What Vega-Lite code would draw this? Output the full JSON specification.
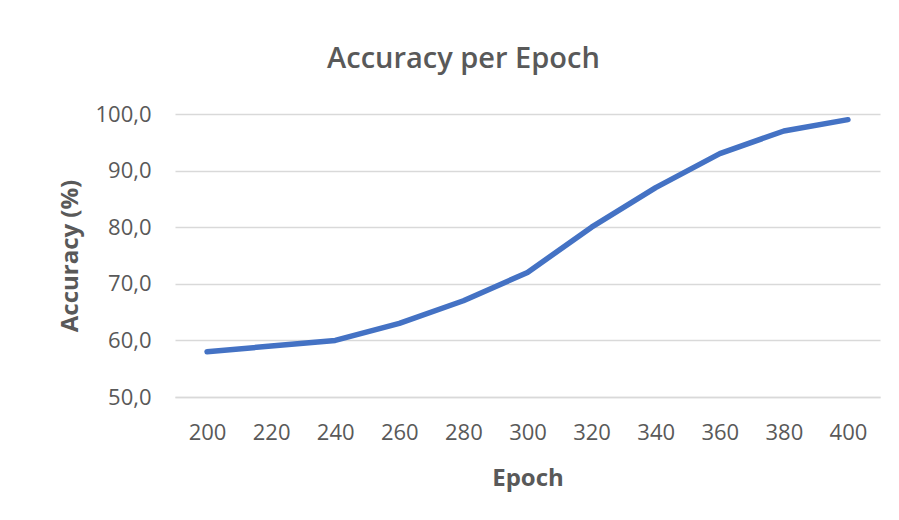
{
  "$schema": "https://vega.github.io/schema/vega-lite/v6.json",
  "autosize": {"type": "none"},
  "width": 705,
  "height": 283,
  "padding": {"left": 175, "top": 114, "right": 19, "bottom": 123},
  "background": "white",
  "title": {
    "text": "Accuracy per Epoch",
    "anchor": "middle",
    "frame": "bounds",
    "font": "Open Sans",
    "fontSize": 29,
    "fontWeight": 600,
    "color": "#595959",
    "baseline": "alphabetic",
    "offset": 6,
    "dx": -6
  },
  "data": {
    "values": [
      {"epoch": 200, "accuracy": 58},
      {"epoch": 220, "accuracy": 59},
      {"epoch": 240, "accuracy": 60},
      {"epoch": 260, "accuracy": 63},
      {"epoch": 280, "accuracy": 67},
      {"epoch": 300, "accuracy": 72},
      {"epoch": 320, "accuracy": 80},
      {"epoch": 340, "accuracy": 87},
      {"epoch": 360, "accuracy": 93},
      {"epoch": 380, "accuracy": 97},
      {"epoch": 400, "accuracy": 99}
    ]
  },
  "mark": {"type": "line", "color": "#4472C4", "strokeWidth": 5.5, "strokeCap": "round", "strokeJoin": "round"},
  "encoding": {
    "x": {
      "field": "epoch",
      "type": "ordinal",
      "title": "Epoch",
      "scale": {"type": "point", "padding": 0.5},
      "axis": {
        "labelAngle": 0,
        "labelFont": "Open Sans",
        "labelFontSize": 22,
        "labelColor": "#595959",
        "labelPadding": 25,
        "ticks": false,
        "domain": true,
        "domainColor": "#d9d9d9",
        "domainWidth": 1.3,
        "grid": false,
        "titleFont": "Open Sans",
        "titleFontSize": 24,
        "titleFontWeight": "bold",
        "titleColor": "#595959",
        "titlePadding": 23
      }
    },
    "y": {
      "field": "accuracy",
      "type": "quantitative",
      "title": "Accuracy (%)",
      "scale": {"domain": [50, 100], "nice": false, "zero": false},
      "axis": {
        "values": [50, 60, 70, 80, 90, 100],
        "labelExpr": "replace(format(datum.value, '.1f'), '.', ',')",
        "labelFont": "Open Sans",
        "labelFontSize": 22,
        "labelColor": "#595959",
        "labelPadding": 24,
        "ticks": false,
        "domain": false,
        "grid": true,
        "gridColor": "#d9d9d9",
        "gridWidth": 1.3,
        "titleFont": "Open Sans",
        "titleFontSize": 24,
        "titleFontWeight": "bold",
        "titleColor": "#595959",
        "titlePadding": 12
      }
    }
  },
  "config": {"view": {"stroke": null}}
}
